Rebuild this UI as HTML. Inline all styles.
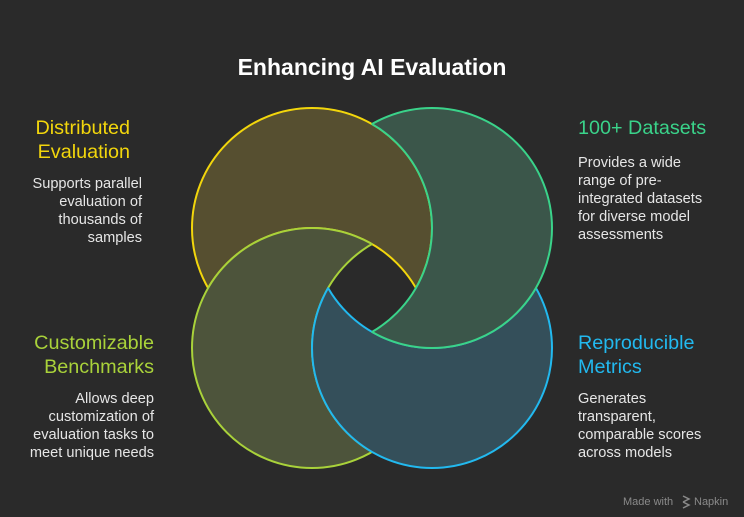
<!DOCTYPE html>
<html><head><meta charset="utf-8"><style>
html,body{margin:0;padding:0;background:#2a2a2a;}
svg{display:block}
text{font-family:"Liberation Sans",Arial,sans-serif;}
</style></head><body>
<svg width="744" height="517" viewBox="0 0 744 517" xmlns="http://www.w3.org/2000/svg">
<rect width="744" height="517" fill="#2a2a2a"/>
<defs>
<mask id="mY"><rect width="744" height="517" fill="white"/><circle cx="312" cy="348" r="120" fill="black"/></mask>
<mask id="mG"><rect width="744" height="517" fill="white"/><circle cx="312" cy="228" r="120" fill="black"/></mask>
<mask id="mB"><rect width="744" height="517" fill="white"/><circle cx="432" cy="228" r="120" fill="black"/></mask>
<mask id="mL"><rect width="744" height="517" fill="white"/><circle cx="432" cy="348" r="120" fill="black"/></mask>
<clipPath id="cY"><circle cx="312" cy="228" r="120"/></clipPath>
<clipPath id="cG"><circle cx="432" cy="228" r="120"/></clipPath>
<clipPath id="cB"><circle cx="432" cy="348" r="120"/></clipPath>
<clipPath id="cL"><circle cx="312" cy="348" r="120"/></clipPath>
</defs>
<g mask="url(#mY)"><circle cx="312" cy="228" r="120" fill="#564f30" stroke="#f2d60c" stroke-width="2"/></g>
<g clip-path="url(#cY)"><circle cx="312" cy="348" r="120" fill="none" stroke="#f2d60c" stroke-width="2"/></g>
<g mask="url(#mL)"><circle cx="312" cy="348" r="120" fill="#4d543b" stroke="#a9d23a" stroke-width="2"/></g>
<g clip-path="url(#cL)"><circle cx="432" cy="348" r="120" fill="none" stroke="#a9d23a" stroke-width="2"/></g>
<g mask="url(#mB)"><circle cx="432" cy="348" r="120" fill="#344f5a" stroke="#22b9ef" stroke-width="2"/></g>
<g clip-path="url(#cB)"><circle cx="432" cy="228" r="120" fill="none" stroke="#22b9ef" stroke-width="2"/></g>
<g mask="url(#mG)"><circle cx="432" cy="228" r="120" fill="#3b564a" stroke="#3ad38a" stroke-width="2"/></g>
<g clip-path="url(#cG)"><circle cx="312" cy="228" r="120" fill="none" stroke="#3ad38a" stroke-width="2"/></g>

<text x="372" y="75" text-anchor="middle" font-size="23" font-weight="bold" fill="#ffffff">Enhancing AI Evaluation</text>

<g font-size="19.8" fill="#f2d60c" text-anchor="end">
<text x="130" y="134">Distributed</text><text x="130" y="158">Evaluation</text></g>
<g font-size="14.6" fill="#e6e6e6" text-anchor="end">
<text x="142" y="188">Supports parallel</text><text x="142" y="206">evaluation of</text><text x="142" y="224">thousands of</text><text x="142" y="242">samples</text></g>

<g font-size="19.8" fill="#3ad38a"><text x="578" y="134">100+ Datasets</text></g>
<g font-size="14.6" fill="#e6e6e6">
<text x="578" y="167">Provides a wide</text><text x="578" y="185">range of pre-</text><text x="578" y="203">integrated datasets</text><text x="578" y="221">for diverse model</text><text x="578" y="239">assessments</text></g>

<g font-size="19.8" fill="#a9d23a" text-anchor="end">
<text x="154" y="349">Customizable</text><text x="154" y="373">Benchmarks</text></g>
<g font-size="14.6" fill="#e6e6e6" text-anchor="end">
<text x="154" y="403">Allows deep</text><text x="154" y="421">customization of</text><text x="154" y="439">evaluation tasks to</text><text x="154" y="457">meet unique needs</text></g>

<g font-size="19.8" fill="#22b9ef"><text x="578" y="349">Reproducible</text><text x="578" y="373">Metrics</text></g>
<g font-size="14.6" fill="#e6e6e6">
<text x="578" y="403">Generates</text><text x="578" y="421">transparent,</text><text x="578" y="439">comparable scores</text><text x="578" y="457">across models</text></g>

<text x="623" y="505" font-size="11" fill="#8a8a8a">Made with</text>
<path d="M683 496 l6 3 l-6 3 m0 0 l6 3 l-6 3" stroke="#8a8a8a" stroke-width="1.5" fill="none"/>
<text x="694" y="505" font-size="11" fill="#8a8a8a">Napkin</text>
</svg>
</body></html>
